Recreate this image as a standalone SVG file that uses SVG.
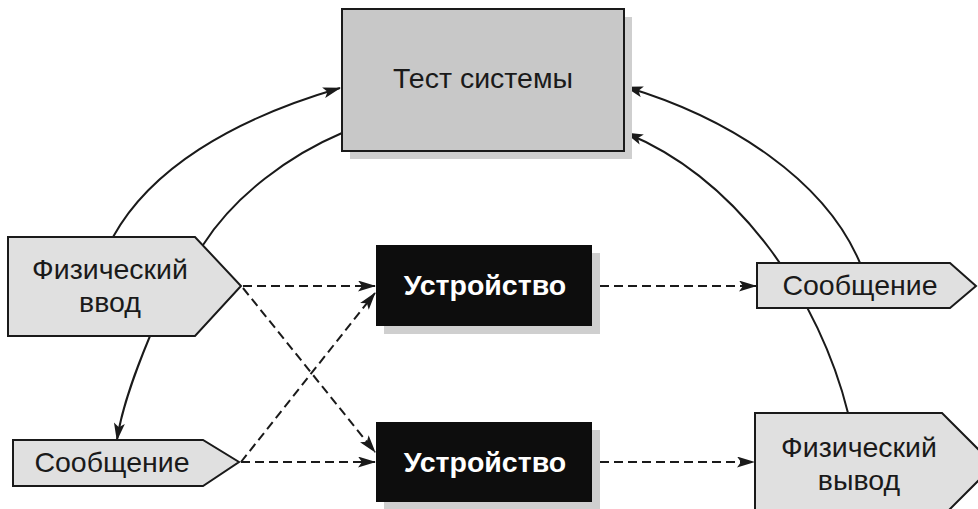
<svg xmlns="http://www.w3.org/2000/svg" width="978" height="509" viewBox="0 0 978 509">
<style>
.lbl{font-family:"Liberation Sans",Arial,sans-serif;font-size:28.5px;fill:#1a1a1a;text-anchor:middle}
.dev{font-family:"Liberation Sans",Arial,sans-serif;font-size:28.5px;font-weight:bold;fill:#ffffff;text-anchor:middle}
.pent{fill:#e0e0e0;stroke:#1a1a1a;stroke-width:2;stroke-linejoin:miter}
.shadow{fill:#cfcfcf}
.solid{fill:none;stroke:#1a1a1a;stroke-width:2}
.dash{fill:none;stroke:#1a1a1a;stroke-width:2;stroke-dasharray:9 5}
</style>
<defs>
<marker id="arr" viewBox="0 0 18 11" refX="17" refY="5.5" markerWidth="18" markerHeight="11" markerUnits="userSpaceOnUse" orient="auto">
<path d="M0,0 L18,5.5 L0,11 L4,5.5 z" fill="#1a1a1a"/>
</marker>
</defs>
<rect width="978" height="509" fill="#ffffff"/>
<g id="connectors">
<path class="solid" d="M113,237 C150,170 230,120 340,88" marker-end="url(#arr)"/>
<path class="solid" d="M342,133 C290,155 235,195 203,245"/>
<path class="solid" d="M860,263 C825,180 730,118 626,87" marker-end="url(#arr)"/>
<path class="solid" d="M848,413 C820,300 740,180 626,133" marker-end="url(#arr)"/>
<path class="solid" d="M150,336 C138,365 122,405 117,440" marker-end="url(#arr)"/>
<path class="dash" d="M243,286 L375,286" marker-end="url(#arr)"/>
<path class="dash" d="M243,288 L375,452" marker-end="url(#arr)"/>
<path class="dash" d="M241,462 L375,293" marker-end="url(#arr)"/>
<path class="dash" d="M241,462 L375,462" marker-end="url(#arr)"/>
<path class="dash" d="M600,286 L756,286" marker-end="url(#arr)"/>
<path class="dash" d="M600,462 L754,462" marker-end="url(#arr)"/>
</g>
<g id="test">
<rect class="shadow" x="350" y="17" width="282" height="142"/>
<rect x="342" y="9" width="282" height="142" fill="#c8c8c8" stroke="#1a1a1a" stroke-width="2"/>
<text class="lbl" x="483" y="88">Тест системы</text>
</g>
<g id="phys_in">
<polygon class="pent" points="8,237 195,237 241,286 195,336 8,336"/>
<text class="lbl" x="110" y="279">Физический</text>
<text class="lbl" x="110" y="312">ввод</text>
</g>
<g id="msg_in">
<polygon class="pent" points="13,440 203,440 239,462 203,486 13,486"/>
<text class="lbl" x="112" y="472">Сообщение</text>
</g>
<g id="dev1">
<rect class="shadow" x="384" y="253" width="216" height="81"/>
<rect x="376" y="245" width="216" height="81" fill="#0d0d0d"/>
<text class="dev" x="485" y="295">Устройство</text>
</g>
<g id="dev2">
<rect class="shadow" x="384" y="430" width="216" height="80"/>
<rect x="376" y="422" width="216" height="80" fill="#0d0d0d"/>
<text class="dev" x="485" y="472">Устройство</text>
</g>
<g id="msg_out">
<polygon class="pent" points="757,263 950,263 976,286 950,308 757,308"/>
<text class="lbl" x="860" y="295">Сообщение</text>
</g>
<g id="phys_out">
<polygon class="pent" points="755,413 942,413 994,465 942,517 755,517"/>
<text class="lbl" x="859" y="457">Физический</text>
<text class="lbl" x="859" y="490">вывод</text>
</g>
</svg>
